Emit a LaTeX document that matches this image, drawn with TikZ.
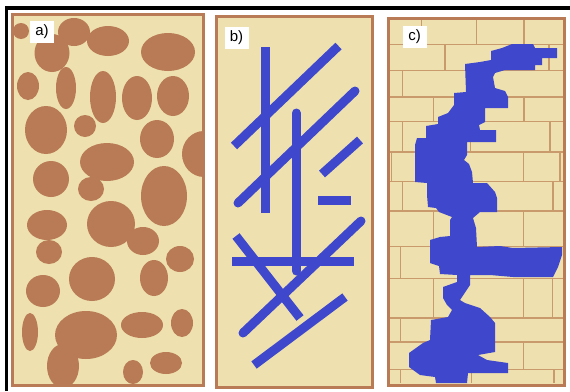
\documentclass[tikz,border=0pt]{standalone}
\usepackage{fontspec}
\setmainfont{Liberation Sans}
\usetikzlibrary{positioning}

\definecolor{sand}{HTML}{EEE1AF}
\definecolor{clay}{HTML}{B97A56}
\definecolor{mortar}{HTML}{C99A6B}
\definecolor{crack}{HTML}{3F48CC}

\tikzset{
  panel/.style={draw=clay, line width=3pt},
  grain/.style={fill=clay},
  fracture/.style={draw=crack, line width=9pt},
  joint/.style={draw=mortar, line width=1.4pt},
  tag/.style={fill=white, inner sep=0pt, minimum width=24pt, minimum height=22pt, font=\fontsize{15}{15}\selectfont}
}

\begin{document}
\begin{tikzpicture}[x=1pt, y=-1pt]
                \useasboundingbox (0,0) rectangle (570,391);
                \fill[white] (0,0) rectangle (570,391);
                \draw[black, line width=3.5pt] (6.5,391) -- (6.5,8) -- (570,8);

                \fill[sand] (12.5,14.2) rectangle (203.5,385.7);
                \begin{scope}
                    \clip (12.5,14.2) rectangle (203.5,385.7);
                    \foreach \cx/\cy/\rx/\ry in {21/31/8/8, 74/32/16/14, 52/53/17.5/19, 108/41/21/15, 168/52/27/19,
                        28/86/11/14, 66/88/10/21, 103/97/13/26, 137/98/15/22, 173/96/16/20,
                        46/130/21/24, 85/126/11/11, 157/139/17/19, 204/154/22/23, 107/162/27/19,
                        51/179/18/18, 91/189/13/12, 164/196/23/30, 47/225/20/15, 111/224/24/23,
                        143/241/16/14, 49/252/13/12, 180/259/14/13, 92/279/23/22, 154/278/14/18,
                        43/291/17/16, 30/332/8/19, 86/335/31/24, 142/325/21/13, 182/323/11/14,
                        63/366/16/22, 133/372/10/12, 166/363/16/11}
                        \fill[grain] (\cx,\cy) ellipse [x radius=\rx pt, y radius=\ry pt];
                \end{scope}
                \draw[panel] (12.5,14.2) rectangle (203.5,385.7);
                \node[tag] (labela) at (42,31.5) {a)};

                \fill[sand] (216.3,16.5) rectangle (372.8,387.2);
                \draw[panel] (216.3,16.5) rectangle (372.8,387.2);
                \draw[fracture] (265.3,47) -- (265.3,213);
                \draw[fracture, line cap=round] (296.2,113) -- (296.2,271);
                \draw[fracture] (234,146) -- (338.5,46);
                \draw[fracture, line cap=round] (238,203) -- (355,91);
                \draw[fracture] (322,174) -- (360,140);
                \draw[fracture] (318,200) -- (351,200);
                \draw[fracture] (232.3,261.3) -- (354.3,261.3);
                \draw[fracture] (236,236) -- (300,318);
                \draw[fracture, line cap=round] (243,333) -- (361,221);
                \draw[fracture] (254,365) -- (345,297);
                \node[tag] (labelb) at (236.5,37.5) {b)};

                \fill[sand] (388.3,18.3) rectangle (564.3,385.5);
                \foreach \y in {44.3, 70.5, 97, 121.7, 152, 181.7, 210.8, 246.7, 278.3, 318, 342, 369.5}
                    \draw[joint] (390,\y) -- (563,\y);
                \foreach \x/\top/\bot in {421.7/20/44.3, 476.7/20/44.3, 524/20/44.3,
                    445/44.3/70.5, 549/44.3/70.5,
                    402.3/70.5/97,
                    433.3/97/121.7, 524/97/121.7,
                    402.3/121.7/152, 470.7/121.7/152, 550/121.7/152,
                    391.7/152/181.7, 523.3/152/181.7, 560/152/181.7,
                    402.3/181.7/210.8, 553/181.7/210.8,
                    433.3/210.8/246.7, 523.3/210.8/246.7,
                    400.7/246.7/278.3,
                    433.3/278.3/318, 523.3/278.3/318, 552.7/278.3/318,
                    400.7/318/342,
                    523.3/342/369.5,
                    400.7/369.5/383, 471.7/369.5/383, 554/369.5/383}
                    \draw[joint] (\x,\top) -- (\x,\bot);
                \fill[crack] (465,64) -- (480,62) -- (491,60) -- (491,51) -- (502,48) -- (512,44) -- (533,44)
                    -- (535,48) -- (557,48) -- (557,58) -- (542,58) -- (542,65) -- (535,65) -- (535,70)
                    -- (505,70) -- (495,73) -- (493,77) -- (495,88) -- (505,91) -- (508,97) -- (508,108)
                    -- (485,108) -- (485,122) -- (479,125) -- (480,130) -- (496,130) -- (496,142) -- (467,142)
                    -- (467,155) -- (464,160) -- (469,164) -- (472,172) -- (473,183) -- (487,183) -- (495,192)
                    -- (497,198) -- (497,212) -- (480,212) -- (473,218) -- (476,228) -- (477,247) -- (500,246)
                    -- (513,248) -- (562,247) -- (562,255) -- (558,267) -- (553,277) -- (513,277) -- (490,275)
                    -- (470,275) -- (470,285) -- (460,300) -- (465,303) -- (480,308) -- (490,317) -- (495,323)
                    -- (495,352) -- (478,355) -- (487,360) -- (508,363) -- (508,373) -- (468,373) -- (467,383)
                    -- (436,383) -- (435,377) -- (420,375) -- (409,367) -- (409,353) -- (423,343) -- (430,340)
                    -- (431,320) -- (448,317) -- (452,310) -- (447,305) -- (443,298) -- (443,287) -- (457,282)
                    -- (457,275) -- (440,274) -- (439,266) -- (430,263) -- (430,240) -- (440,237) -- (450,236)
                    -- (450,220) -- (452,217) -- (439,212) -- (436,208) -- (428,207) -- (427,195) -- (427,183)
                    -- (415,182) -- (415,145) -- (417,138) -- (426,138) -- (426,126) -- (438,124) -- (438,117)
                    -- (448,113) -- (454,105) -- (454,93) -- (466,92) -- cycle;
                \draw[panel, line width=3.3pt] (388.3,18.3) rectangle (564.3,385.5);
                \node[tag] (labelc) at (414.5,37) {c)};
            \end{tikzpicture}
\end{document}
